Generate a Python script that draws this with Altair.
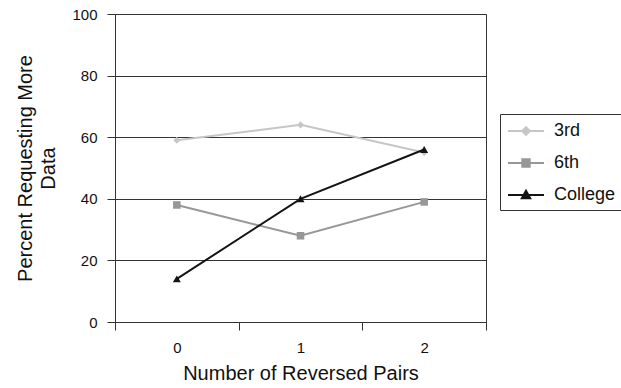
import altair as alt
import pandas as pd

categories = ["0", "1", "2"]
series_names = ["3rd", "6th", "College"]
third = [59, 64, 55]
sixth = [38, 28, 39]
college = [14, 40, 56]

rows = []
for name, vals in zip(series_names, [third, sixth, college]):
    for c, v in zip(categories, vals):
        rows.append({"pairs": c, "pct": v, "series": name})
df = pd.DataFrame(rows)

colors = ["#c6c6c6", "#979797", "#141414"]
FONT = "Liberation Sans"

x_enc = alt.X(
    "pairs:N",
    sort=categories,
    scale=alt.Scale(type="band", paddingInner=0, paddingOuter=0),
    axis=alt.Axis(
        title="Number of Reversed Pairs",
        labelAngle=0,
        tickBand="extent",
        tickSize=8,
        labelPadding=10,
        titlePadding=8,
        grid=False,
        domainColor="#333333",
        tickColor="#333333",
        labelFontSize=15,
        titleFontSize=20,
    ),
)
y_enc = alt.Y(
    "pct:Q",
    scale=alt.Scale(domain=[0, 100], nice=False),
    axis=alt.Axis(
        title=["Percent Requesting More", "Data"],
        values=[0, 20, 40, 60, 80, 100],
        tickSize=8,
        labelPadding=10,
        titlePadding=13,
        titleLineHeight=23,
        grid=True,
        gridColor="#333333",
        gridOpacity=1,
        domainColor="#333333",
        tickColor="#333333",
        labelFontSize=15,
        titleFontSize=20,
    ),
)

color_scale = alt.Scale(domain=series_names, range=colors)
base = alt.Chart(df)

lines = base.mark_line(strokeWidth=2).encode(
    x=x_enc,
    y=y_enc,
    color=alt.Color("series:N", scale=color_scale, legend=None),
)

points = base.mark_point(filled=True, opacity=1).encode(
    x=x_enc,
    y=y_enc,
    color=alt.Color("series:N", scale=color_scale, legend=None),
    shape=alt.Shape(
        "series:N",
        scale=alt.Scale(domain=series_names, range=["diamond", "square", "triangle-up"]),
        legend=None,
    ),
    size=alt.Size("series:N", scale=alt.Scale(domain=series_names, range=[50, 64, 72]), legend=None),
)

legend_paths = [
    "M-0.9,0H2.7M0.9,-0.38L1.28,0L0.9,0.38L0.52,0Z",
    "M-0.9,0H2.7M0.53,-0.37H1.27V0.37H0.53Z",
    "M-0.9,0H2.7M0.9,-0.42L1.32,0.32H0.48Z",
]
leg = alt.Legend(
    title=None,
    orient="none",
    legendX=385,
    legendY=100,
    padding=6,
    rowPadding=12,
    symbolSize=400,
    symbolStrokeWidth=2,
    labelOffset=26,
    labelFontSize=18,
    labelFont=FONT,
    labelColor="#111111",
    strokeColor="#333333",
    fillColor="white",
)

legend_layer = base.transform_filter("false").mark_point(size=400, opacity=1, strokeWidth=2).encode(
    x=x_enc,
    y=y_enc,
    fill=alt.Fill("series:N", scale=color_scale, legend=leg),
    stroke=alt.Stroke("series:N", scale=color_scale, legend=leg),
    shape=alt.Shape("series:N", scale=alt.Scale(domain=series_names, range=legend_paths), legend=leg),
)

chart = (
    alt.layer(lines, points, legend_layer)
    .resolve_scale(shape="independent", fill="independent", stroke="independent", size="independent")
    .properties(
        width=371,
        height=308,
        autosize=alt.AutoSizeParams(type="none"),
        padding={"left": 115, "top": 14, "right": 135, "bottom": 66},
    )
    .configure(font=FONT)
    .configure_view(stroke="#333333", strokeWidth=1)
    .configure_axis(labelColor="#111111", titleColor="#111111", titleFontWeight="normal", labelFont=FONT, titleFont=FONT)
)

chart.save("out.html", embed_options={"renderer": "svg", "actions": False})
